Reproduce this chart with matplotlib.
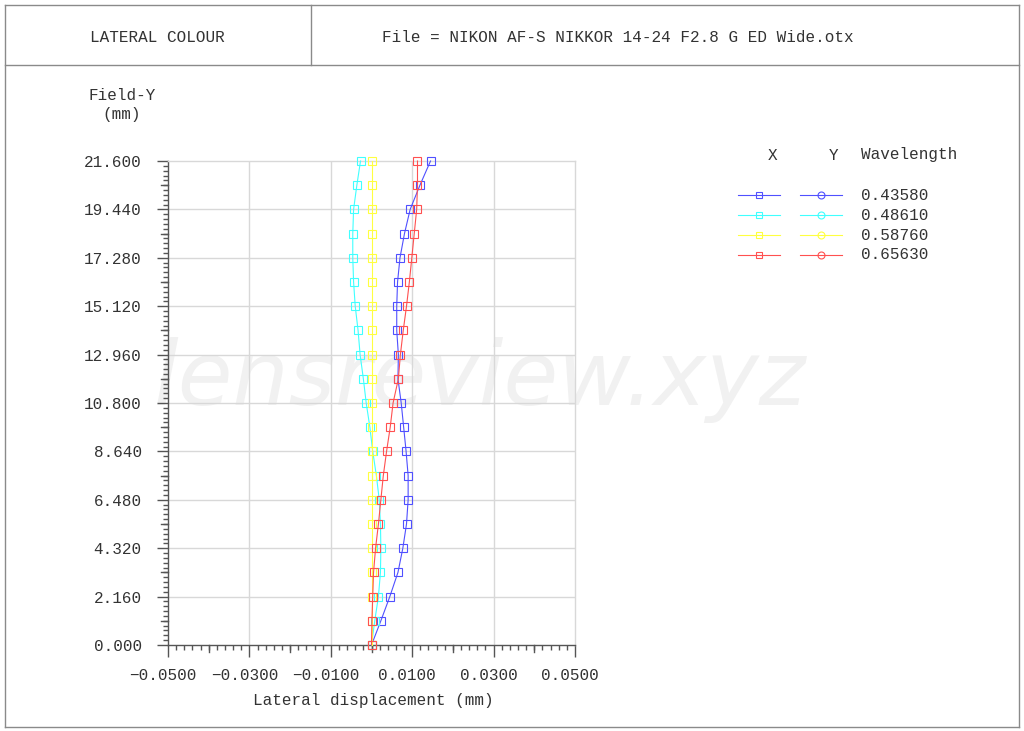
import matplotlib
matplotlib.use("Agg")
import matplotlib.pyplot as plt
from matplotlib.lines import Line2D
from matplotlib.ticker import MultipleLocator, FixedLocator
from matplotlib.transforms import blended_transform_factory, ScaledTranslation
import numpy as np

# ---------------- data ----------------
field_y = [0.00, 1.08, 2.16, 3.24, 4.32, 5.40, 6.48, 7.56, 8.64, 9.72, 10.80,
           11.88, 12.96, 14.04, 15.12, 16.20, 17.28, 18.36, 19.44, 20.52, 21.60]
wavelengths = ["0.43580", "0.48610", "0.58760", "0.65630"]
disp_4358 = [0.0000, 0.0023, 0.0045, 0.0065, 0.0077, 0.0086, 0.0090, 0.0090, 0.0085, 0.0079, 0.0073,
             0.0065, 0.0066, 0.0062, 0.0062, 0.0064, 0.0070, 0.0081, 0.0095, 0.0119, 0.0145]
disp_4861 = [0.0000, 0.0008, 0.0017, 0.0022, 0.0023, 0.0022, 0.0019, 0.0012, 0.0003, -0.0004, -0.0013,
             -0.0020, -0.0028, -0.0033, -0.0040, -0.0044, -0.0046, -0.0046, -0.0044, -0.0036, -0.0027]
disp_5876 = [0.0000] * 21
disp_6563 = [0.0000, 0.0001, 0.0003, 0.0005, 0.0010, 0.0017, 0.0023, 0.0029, 0.0037, 0.0046, 0.0053,
             0.0066, 0.0071, 0.0078, 0.0086, 0.0093, 0.0099, 0.0105, 0.0111, 0.0113, 0.0113]
series = [disp_4358, disp_4861, disp_5876, disp_6563]
colors = ["#5050ff", "#40ffff", "#ffff40", "#ff5050"]
x_ticks = [-0.05, -0.03, -0.01, 0.01, 0.03, 0.05]
x_ticklabels = ["\u22120.0500", "\u22120.0300", "\u22120.0100", "0.0100", "0.0300", "0.0500"]
x_mid_ticks = [-0.04, -0.02, 0.0, 0.02, 0.04]
y_ticks = [0.0, 2.16, 4.32, 6.48, 8.64, 10.80, 12.96, 15.12, 17.28, 19.44, 21.60]
y_ticklabels = ["0.000", "2.160", "4.320", "6.480", "8.640", "10.800",
                "12.960", "15.120", "17.280", "19.440", "21.600"]
y_mid_ticks = [1.08, 3.24, 5.40, 7.56, 9.72, 11.88, 14.04, 16.20, 18.36, 20.52]

FONT = "Liberation Mono"
TXT = "#333333"
W, H = 1024, 731
fig = plt.figure(figsize=(W / 100, H / 100), dpi=100)
fig.patch.set_facecolor("white")
PT = 72 / 100  # points per pixel


def fx(px):
    return px / W


def fy(py):
    return 1 - py / H


def fline(x0, y0, x1, y1, **kw):
    fig.add_artist(Line2D([fx(x0), fx(x1)], [fy(y0), fy(y1)], transform=fig.transFigure, **kw))


# frame and header
bc = "#8a8a8a"
fline(5, 5, 1019, 5, color=bc, lw=1)
fline(5, 727, 1019, 727, color=bc, lw=1)
fline(5, 5, 5, 727, color=bc, lw=1)
fline(1019, 5, 1019, 727, color=bc, lw=1)
fline(5, 65, 1019, 65, color=bc, lw=1)
fline(311, 5, 311, 65, color=bc, lw=1)
fig.text(fx(157), fy(38), "LATERAL COLOUR", family=FONT, fontsize=11.5, color=TXT,
         ha="center", va="center")
fig.text(fx(618), fy(38), "File = NIKON AF-S NIKKOR 14-24 F2.8 G ED Wide.otx", family=FONT,
         fontsize=11.5, color=TXT, ha="center", va="center")

# watermark
fig.text(fx(480), fy(380), "lensreview.xyz", fontsize=64, style="italic", family="DejaVu Sans",
         color="#f1f1f1", ha="center", va="center", zorder=-1)

# axes
ax = fig.add_axes([fx(168), fy(645), fx(575) - fx(168), fy(161) - fy(645)])
ax.set_facecolor("none")
ax.set_xlim(-0.05, 0.05)
ax.set_ylim(0, 21.6)
for xv in x_ticks[1:-1]:
    ax.axvline(xv, color="#d8d8d8", lw=1, zorder=1)
for yv in y_ticks[1:-1]:
    ax.axhline(yv, color="#d8d8d8", lw=1, zorder=1)

for s, c in zip(series, colors):
    ax.plot(s, field_y, color=c, lw=0.8, marker="s", markersize=5.2, mfc="none",
            mec=c, mew=0.8, zorder=3, clip_on=False)

ax.xaxis.set_major_locator(FixedLocator(x_ticks))
ax.set_xticklabels(x_ticklabels, family=FONT, fontsize=11.5, color=TXT)
ax.xaxis.set_minor_locator(MultipleLocator(0.002))
ax.yaxis.set_major_locator(FixedLocator(y_ticks))
ax.set_yticklabels(y_ticklabels, family=FONT, fontsize=11.5, color=TXT)
ax.yaxis.set_minor_locator(MultipleLocator(0.216))
tc = "#555555"
ax.tick_params(axis="x", which="major", direction="out", length=12 * PT, width=1, color=tc, pad=8)
ax.tick_params(axis="x", which="minor", direction="out", length=5 * PT, width=1, color=tc)
ax.tick_params(axis="y", which="major", direction="out", length=11 * PT, width=1, color=tc, pad=11)
ax.tick_params(axis="y", which="minor", direction="out", length=5 * PT, width=1, color=tc)
shift = ScaledTranslation(-5 / 100, 0, fig.dpi_scale_trans)
for lab in ax.get_xticklabels():
    lab.set_transform(lab.get_transform() + shift)

# medium ticks
tx = blended_transform_factory(ax.transData, ax.transAxes)
for xv in x_mid_ticks:
    ax.plot([xv, xv], [0, -7 / 484], transform=tx, color=tc, lw=1, clip_on=False)
ty = blended_transform_factory(ax.transAxes, ax.transData)
for yv in y_mid_ticks:
    ax.plot([0, -7 / 407], [yv, yv], transform=ty, color=tc, lw=1, clip_on=False)

for sp in ["left", "bottom"]:
    ax.spines[sp].set_color(tc)
    ax.spines[sp].set_linewidth(1)
for sp in ["top", "right"]:
    ax.spines[sp].set_color("#d8d8d8")
    ax.spines[sp].set_linewidth(1)

fig.text(fx(122), fy(96), "Field-Y", family=FONT, fontsize=11.5, color=TXT,
         ha="center", va="center")
fig.text(fx(122), fy(115), "(mm)", family=FONT, fontsize=11.5, color=TXT,
         ha="center", va="center")
fig.text(fx(373), fy(700), "Lateral displacement (mm)", family=FONT, fontsize=11.5,
         color=TXT, ha="center", va="center")

# legend
fig.text(fx(773), fy(155), "X", family=FONT, fontsize=11.5, color=TXT, ha="center", va="center")
fig.text(fx(834), fy(155), "Y", family=FONT, fontsize=11.5, color=TXT, ha="center", va="center")
fig.text(fx(861), fy(155), "Wavelength", family=FONT, fontsize=11.5, color=TXT,
         ha="left", va="center")
for i, (wl, c) in enumerate(zip(wavelengths, colors)):
    yy = 195 + 20 * i
    fline(738, yy, 780, yy, color=c, lw=0.8)
    fig.add_artist(Line2D([fx(759)], [fy(yy)], transform=fig.transFigure, marker="s",
                          markersize=5, mfc="none", mec=c, mew=0.8, lw=0))
    fline(800, yy, 842, yy, color=c, lw=0.8)
    fig.add_artist(Line2D([fx(821)], [fy(yy)], transform=fig.transFigure, marker="o",
                          markersize=5, mfc="none", mec=c, mew=0.8, lw=0))
    fig.text(fx(861), fy(yy), wl, family=FONT, fontsize=11.5, color=TXT,
             ha="left", va="center")

fig.savefig("out.png", dpi=100, facecolor="white")
